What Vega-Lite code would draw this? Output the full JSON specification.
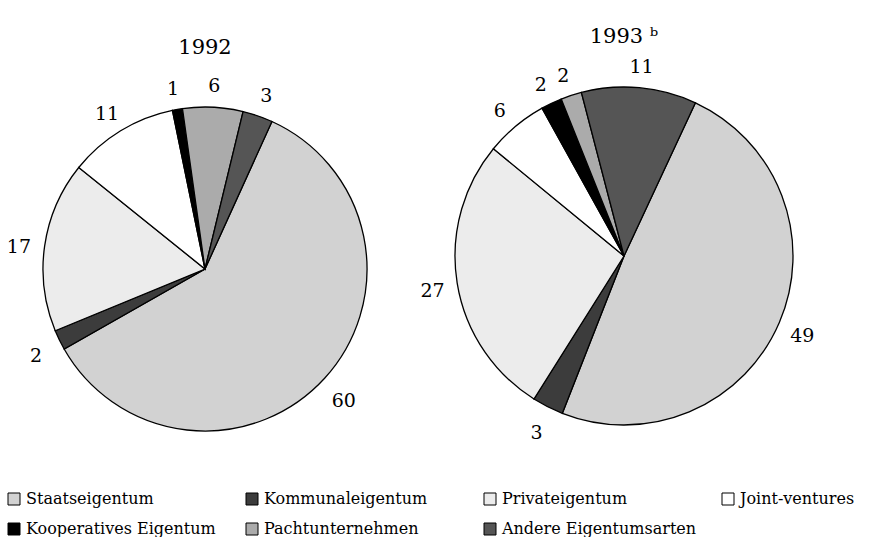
{
  "$schema": "https://vega.github.io/schema/vega-lite/v6.json",
  "padding": {"top": 25, "left": 0, "right": 0, "bottom": 0},
  "background": "white",
  "data": {
    "values": [
      {"year": "1992", "category": "Staatseigentum", "value": 60, "ord": 1},
      {"year": "1992", "category": "Kommunaleigentum", "value": 2, "ord": 2},
      {"year": "1992", "category": "Privateigentum", "value": 17, "ord": 3},
      {"year": "1992", "category": "Joint-ventures", "value": 11, "ord": 4},
      {"year": "1992", "category": "Kooperatives Eigentum", "value": 1, "ord": 5},
      {"year": "1992", "category": "Pachtunternehmen", "value": 6, "ord": 6},
      {"year": "1992", "category": "Andere Eigentumsarten", "value": 3, "ord": 7},
      {"year": "1993", "category": "Staatseigentum", "value": 49, "ord": 1},
      {"year": "1993", "category": "Kommunaleigentum", "value": 3, "ord": 2},
      {"year": "1993", "category": "Privateigentum", "value": 27, "ord": 3},
      {"year": "1993", "category": "Joint-ventures", "value": 6, "ord": 4},
      {"year": "1993", "category": "Kooperatives Eigentum", "value": 2, "ord": 5},
      {"year": "1993", "category": "Pachtunternehmen", "value": 2, "ord": 6},
      {"year": "1993", "category": "Andere Eigentumsarten", "value": 11, "ord": 7}
    ]
  },
  "spacing": 10,
  "hconcat": [
    {
      "width": 410,
      "height": 396,
      "title": {"text": "1992", "offset": -4, "baseline": "alphabetic", "fontSize": 21, "font": "DejaVu Serif", "fontWeight": "normal", "color": "black", "anchor": "middle"},
      "transform": [{"filter": "datum.year == '1992'"}],
      "encoding": {
        "theta": {"field": "value", "type": "quantitative", "stack": true, "scale": {"range": [0.4259, 6.7091]}},
        "order": {"field": "ord", "type": "quantitative"},
        "color": {
          "field": "category", "type": "nominal",
          "scale": {
            "domain": ["Staatseigentum", "Kommunaleigentum", "Privateigentum", "Joint-ventures", "Kooperatives Eigentum", "Pachtunternehmen", "Andere Eigentumsarten"],
            "range": ["#d2d2d2", "#3c3c3c", "#ececec", "#ffffff", "#000000", "#ababab", "#555555"]
          }
        }
      },
      "layer": [
        {"mark": {"type": "arc", "outerRadius": 162, "stroke": "black", "strokeWidth": 1.3}},
        {
          "mark": {"type": "text", "radius": 188, "dy": 5, "fontSize": 19, "font": "DejaVu Serif", "align": "center", "baseline": "middle"},
          "encoding": {"text": {"field": "value", "type": "quantitative"}, "color": {"value": "black"}, "detail": {"field": "category"}}
        }
      ]
    },
    {
      "width": 398,
      "height": 370,
      "title": {"text": "1993 ᵇ", "offset": -6, "baseline": "alphabetic", "fontSize": 21, "font": "DejaVu Serif", "fontWeight": "normal", "color": "black", "anchor": "middle"},
      "transform": [{"filter": "datum.year == '1993'"}],
      "encoding": {
        "theta": {"field": "value", "type": "quantitative", "stack": true, "scale": {"range": [0.4363, 6.7195]}},
        "order": {"field": "ord", "type": "quantitative"},
        "color": {"field": "category", "type": "nominal"}
      },
      "layer": [
        {"mark": {"type": "arc", "outerRadius": 169, "stroke": "black", "strokeWidth": 1.3}},
        {
          "mark": {"type": "text", "radius": 194, "dy": 4, "fontSize": 19, "font": "DejaVu Serif", "align": "center", "baseline": "middle"},
          "encoding": {"text": {"field": "value", "type": "quantitative"}, "color": {"value": "black"}, "detail": {"field": "category"}}
        }
      ]
    }
  ],
  "resolve": {"scale": {"theta": "independent"}},
  "config": {
    "view": {"stroke": null},
    "legend": {
      "orient": "none",
      "legendX": 6,
      "legendY": 420,
      "direction": "horizontal",
      "columns": 4,
      "gridAlign": "all",
      "columnPadding": 23,
      "rowPadding": 14,
      "symbolType": "square",
      "symbolSize": 144,
      "symbolStrokeColor": "black",
      "symbolStrokeWidth": 1,
      "symbolOpacity": 1,
      "labelFont": "DejaVu Serif",
      "labelFontSize": 16,
      "labelColor": "black",
      "labelLimit": 400,
      "labelOffset": 4,
      "title": null
    }
  }
}
